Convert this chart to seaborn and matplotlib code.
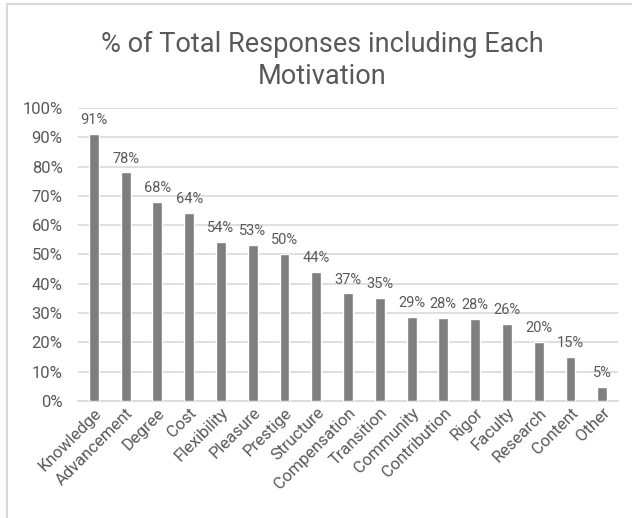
import matplotlib
matplotlib.use("Agg")
import matplotlib.pyplot as plt
import seaborn as sns
import pandas as pd
from matplotlib.lines import Line2D
from matplotlib.ticker import PercentFormatter, MultipleLocator

categories = ["Knowledge", "Advancement", "Degree", "Cost", "Flexibility", "Pleasure",
              "Prestige", "Structure", "Compensation", "Transition", "Community",
              "Contribution", "Rigor", "Faculty", "Research", "Content", "Other"]
values = [91.0, 78.0, 68.0, 64.3, 54.3, 53.2, 50.1, 44.0, 36.7, 35.1, 28.6,
          28.3, 28.0, 26.4, 20.3, 15.1, 4.8]
title = "% of Total Responses including Each\nMotivation"

df = pd.DataFrame({"category": categories, "value": values})

sns.set_theme(style="white")
plt.rcParams["font.family"] = ["Roboto", "DejaVu Sans"]

text_color = "#595959"
fig = plt.figure(figsize=(6.32, 5.18), dpi=100)
ax = fig.add_axes([0.1234, 0.2259, 0.8546, 0.5656])

sns.barplot(data=df, x="category", y="value", color="#7f7f7f", saturation=1,
            width=0.31, ax=ax, zorder=3)

ax.set_ylim(0, 100)
ax.yaxis.set_major_locator(MultipleLocator(10))
ax.yaxis.set_major_formatter(PercentFormatter(decimals=0))
ax.grid(axis="y", color="#d9d9d9", linewidth=1.2, zorder=0)
ax.set_axisbelow(True)
for s in ["top", "right", "left"]:
    ax.spines[s].set_visible(False)
ax.spines["bottom"].set_color("#d9d9d9")
ax.spines["bottom"].set_linewidth(1.2)
ax.set_xlabel("")
ax.set_ylabel("")
ax.tick_params(axis="y", labelsize=12, colors=text_color, length=0, pad=11)
ax.tick_params(axis="x", labelsize=12, colors=text_color, length=0, pad=3)
plt.setp(ax.get_xticklabels(), rotation=45, ha="right", rotation_mode="anchor")

for c in ax.containers:
    ax.bar_label(c, labels=[f"{v:.0f}%" for v in values], padding=5,
                 fontsize=10.5, color=text_color)

fig.text(0.51, 0.883, title, ha="center", va="center", fontsize=19.5,
         color=text_color, linespacing=1.25)

fig.add_artist(Line2D([0.011, 0.011], [0.0, 0.992], transform=fig.transFigure,
                      color="#d9d9d9", linewidth=1.5))
fig.add_artist(Line2D([0.011, 1.0], [0.992, 0.992], transform=fig.transFigure,
                      color="#d9d9d9", linewidth=1.5))

fig.savefig("out.png", dpi=100, facecolor="white")
